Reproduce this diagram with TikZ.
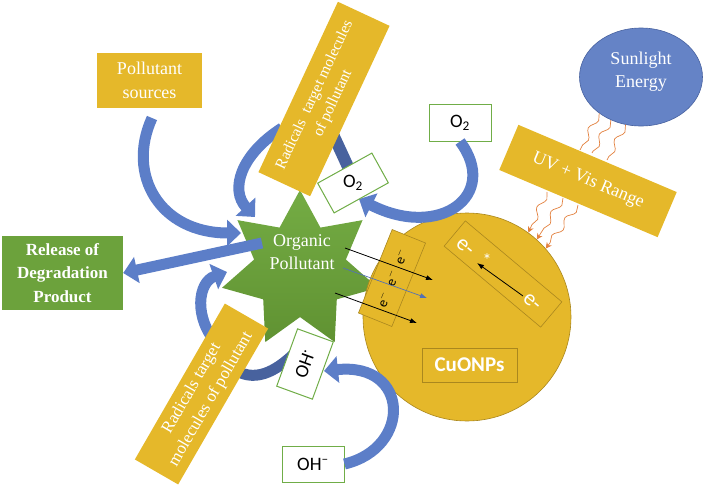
\documentclass[tikz,border=0pt]{standalone}
\usepackage{fontspec}
\setmainfont{Liberation Serif}
\newfontfamily\cbr{Carlito}
\usepackage{graphicx}
\usetikzlibrary{shapes.geometric}
\usetikzlibrary{arrows.meta}
\usetikzlibrary{decorations.pathmorphing}

\definecolor{gold}{RGB}{229,184,42}
\definecolor{golddk}{RGB}{170,135,30}
\definecolor{leaf}{RGB}{108,162,60}
\definecolor{leaflt}{RGB}{116,172,68}
\definecolor{leafdk}{RGB}{96,146,50}
\definecolor{boxgreen}{RGB}{112,173,71}
\definecolor{sky}{RGB}{101,131,198}
\definecolor{skydk}{RGB}{72,98,160}
\definecolor{arr}{RGB}{92,126,200}
\definecolor{arrdk}{RGB}{72,98,158}
\definecolor{orng}{RGB}{226,128,62}

\tikzset{
  ybox/.style={fill=gold, text=white, align=center, inner sep=0pt},
  gbox/.style={draw=boxgreen, line width=1pt, fill=white, inner sep=0pt,
    font=\cbr\fontsize{19}{22}\selectfont},
  fat/.style={draw=arr, line width=11pt, -{Triangle[width=26pt,length=14pt]}},
  wave/.style={draw=orng, line width=0.7pt, decorate,
    decoration={snake,amplitude=3pt,segment length=22pt}},
  wavearr/.style={wave, decoration={snake,amplitude=3pt,segment length=22pt,post length=4pt},
    -{Stealth[length=6pt,width=6pt]}},
  eline/.style={line width=0.8pt, -{Latex[length=7pt,width=5pt]}}
}

\begin{document}
\begin{tikzpicture}[x=1pt,y=-1pt]
  \useasboundingbox (0,0) rectangle (705,490);

  % blue block arrows, drawn first so the shapes sit on top
  \coordinate (sa) at (152,118);
  \coordinate (ra) at (282,128);
  \coordinate (la) at (262,243);
  \coordinate (da) at (218,345);
  \coordinate (ka) at (235,370);
  \coordinate (ha) at (328,124);
  \draw[fat] (sa) .. controls (126,175) and (160,233) .. (241,233);
  \draw[fat] (ra) .. controls (240,155) and (230,190) .. (255,217);
  \draw[fat] (da) .. controls (193,318) and (198,282) .. (227,272);
  \draw[draw=arrdk, line width=11pt] (ka) .. controls (258,384) and (280,368) .. (298,350);
  \draw[draw=arrdk, line width=12pt] (ha) .. controls (338,145) .. (354,180);

  % organic pollutant
  \node[star, star points=7, star point ratio=1.7, minimum size=160pt, inner sep=0pt,
    top color=leaflt, bottom color=leafdk] (org) at (300,270) {};
  \node[text=white, align=center, font=\fontsize{18}{23}\selectfont] (orgl) at (302,252)
    {Organic\\Pollutant};

  % CuO nanoparticle
  \node[circle, minimum size=208pt, inner sep=0pt, fill=gold, draw=golddk, line width=0.6pt]
    (cu) at (467,317) {};
  \node[fill=gold, draw=golddk, line width=0.6pt, rotate=68, minimum width=90pt,
    minimum height=36pt, inner sep=0pt, font=\cbr\fontsize{14}{14}\selectfont]
    (ebox) at (392,278) {e$^-$\hspace{8pt}e$^-$\hspace{8pt}e$^-$};
  \node[draw=golddk, line width=0.6pt, rotate=-40, minimum width=126pt, minimum height=33pt]
    (xbox) at (503,274) {};
  \node[rotate=-40, text=white, inner sep=0pt, font=\cbr\fontsize{22}{22}\selectfont]
    (e1) at (465,247) {e-};
  \node[text=white, inner sep=0pt, font=\cbr\fontsize{18}{18}\selectfont] (ex) at (487,260) {*};
  \node[rotate=-40, text=white, inner sep=0pt, font=\cbr\fontsize{22}{22}\selectfont]
    (e2) at (532,302) {e-};
  \node[draw=golddk, line width=0.6pt, minimum width=95pt, minimum height=34pt, text=white,
    font=\cbr\bfseries\fontsize{21}{21}\selectfont] (cuo) at (469.5,365) {CuONPs};

  \path (e2) +(-9,-6) coordinate (xa);
  \path (e1) +(12,16) coordinate (xb);
  \draw[eline] (xa) -- (xb);

  \path (org.center) +(45,-22) coordinate (l1a);
  \path (cu.center) +(-34,-37) coordinate (l1b);
  \path (org.center) +(43,-2) coordinate (l2a);
  \path (cu.center) +(-40,-19) coordinate (l2b);
  \path (org.center) +(35,23) coordinate (l3a);
  \path (cu.center) +(-50,6) coordinate (l3b);
  \draw[eline] (l1a) -- (l1b);
  \draw[eline, draw=arr!90!black, line width=0.7pt] (l2a) -- (l2b);
  \draw[eline] (l3a) -- (l3b);

  % boxes
  \node[ybox, minimum width=105pt, minimum height=55pt, font=\fontsize{18}{24}\selectfont]
    (src) at (149.5,80.5) {Pollutant\\sources};
  \node[fill=leaf, text=white, align=center, inner sep=0pt, minimum width=121pt,
    minimum height=74pt, font=\bfseries\fontsize{17}{23.5}\selectfont]
    (rel) at (62.5,273) {Release of\\Degradation\\Product};
  \node[ybox, rotate=65, minimum width=188pt, minimum height=57pt,
    font=\fontsize{15.5}{20}\selectfont] (rad1) at (324,99)
    {Radicals\ \ target molecules\\of pollutant};
  \node[ybox, rotate=60, minimum width=180pt, minimum height=50pt,
    font=\fontsize{17}{22}\selectfont] (rad2) at (201.5,394)
    {Radicals target\\molecules of pollutant};

  \node[gbox, minimum width=62pt, minimum height=37pt] (otop) at (460,122.5) {O\textsubscript{2}};
  \node[gbox, minimum width=62pt, minimum height=36pt] (ohb) at (313,464)
    {OH\textsuperscript{–}};
  \coordinate (gs) at (359,199);
  \coordinate (hs) at (324,371);

  % arrows between the boxes
  \draw[fat] (la) -- (rel.east);
  \draw[fat] (otop.south) .. controls (500,195) and (440,240) .. (gs);
  \draw[fat] (ohb.east) .. controls (412,448) and (410,362) .. (hs);

  \node[gbox, rotate=29, minimum width=62pt, minimum height=34pt] (osm) at (353,183)
    {\rotatebox{-29}{O\textsubscript{2}}};
  \node[gbox, rotate=70, minimum width=61pt, minimum height=38pt] (ohs) at (305,364)
    {OH\textsuperscript{·}};

  % sunlight
  \node[ellipse, fill=sky, draw=skydk, line width=0.6pt, minimum width=123pt,
    minimum height=98pt, text=white, align=center, font=\fontsize{18}{23}\selectfont]
    (sun) at (641,77) {Sunlight\\Energy\\[-8pt]};
  \node[ybox, rotate=-23, minimum width=172pt, minimum height=49pt,
    font=\fontsize{18}{20}\selectfont] (uv) at (588,181) {UV + Vis Range};

  \path (uv.center) +(-8,-31) coordinate (w1);
  \path (uv.center) +(4,-28) coordinate (w2);
  \path (uv.center) +(19,-21) coordinate (w3);
  \path (uv.center) +(-41,11) coordinate (v1);
  \path (uv.center) +(-25,17) coordinate (v2);
  \path (uv.center) +(-10,24) coordinate (v3);
  \draw[wave] (sun.221) -- (w1);
  \draw[wave] (sun.235) -- (w2);
  \draw[wave] (sun.252) -- (w3);
  \draw[wavearr] (v1) -- (cu.54);
  \draw[wavearr] (v2) -- (cu.48);
  \draw[wavearr] (v3) -- (cu.41);
\end{tikzpicture}
\end{document}
